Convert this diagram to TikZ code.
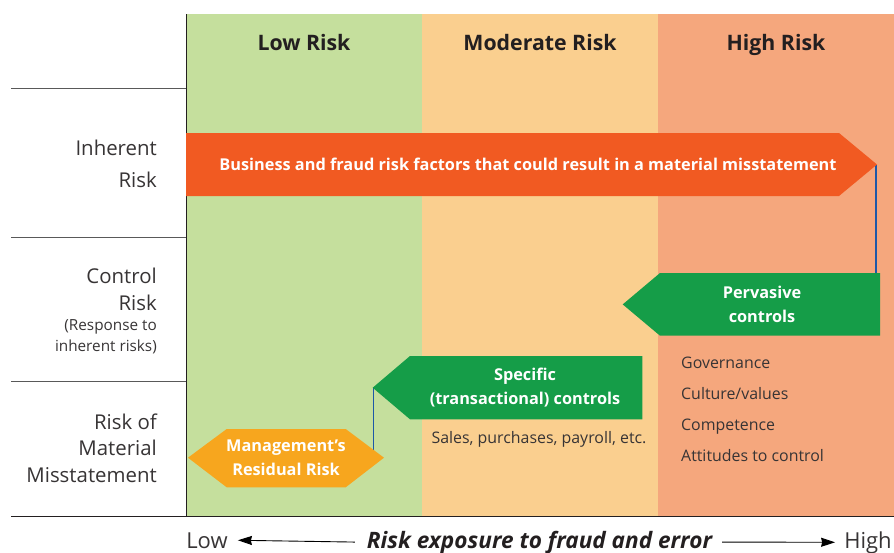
\documentclass[tikz,border=0pt]{standalone}
\usepackage{fontspec}
\setmainfont{Open Sans}
\usepackage{xcolor}
\usetikzlibrary{arrows.meta, positioning, calc, backgrounds}

\definecolor{lowband}{RGB}{197,223,157}
\definecolor{modband}{RGB}{250,207,143}
\definecolor{highband}{RGB}{245,167,125}
\definecolor{inhred}{RGB}{241,90,34}
\definecolor{ctrlgreen}{RGB}{21,157,72}
\definecolor{residorange}{RGB}{247,166,30}
\definecolor{linkblue}{RGB}{28,88,168}
\definecolor{ink}{RGB}{35,31,32}
\definecolor{inklight}{RGB}{55,52,53}

\begin{document}
\begin{tikzpicture}[
    x=1pt, y=-1pt,
    head/.style    = {font=\bfseries\fontsize{21.3}{25}\selectfont, text=ink, anchor=base},
    rowlab/.style  = {font=\fontsize{20.4}{26.5}\selectfont, text=inklight, align=right, anchor=east, inner sep=0pt},
    sublab/.style  = {font=\fontsize{15.3}{20.5}\selectfont, text=inklight, align=right, anchor=east, inner sep=0pt},
    note/.style    = {font=\fontsize{15.9}{31}\selectfont, text=inklight, align=left, inner sep=0pt},
    banner/.style  = {inner sep=0pt, text=white, align=center, font=\bfseries\fontsize{16.3}{24}\selectfont},
    rule/.style    = {line width=0.8pt, gray!70!black},
    link/.style    = {line width=1.8pt, linkblue},
    axend/.style   = {font=\fontsize{22}{26}\selectfont, text=inklight, anchor=base, inner sep=0pt},
    axarrow/.style = {line width=0.9pt, -{Stealth[length=14pt,width=9pt,inset=1pt]}},
]
\useasboundingbox (0,0) rectangle (894,552);

% ---- risk bands ----
\begin{scope}[on background layer]
  \fill[lowband]  (186,14) rectangle (422,516.5);
  \fill[modband]  (422,14) rectangle (658,516.5);
  \fill[highband] (658,14) rectangle (894,516.5);
\end{scope}

\node[head] (lowhd)  at (304,50) {Low Risk};
\node[head] (modhd)  at (540,50) {Moderate Risk};
\node[head] (highhd) at (776,50) {High Risk};

% ---- row rules ----
\draw[rule] (11,88) -- (186,88);
\draw[rule] (11,237) -- (186,237);
\draw[rule] (11,381) -- (186,381);
\draw[line width=0.9pt, ink] (186,14) -- (186,516.5);
\draw[line width=0.9pt, ink] (11,516.5) -- (894,516.5);

% ---- row labels ----
\node[rowlab, font=\fontsize{20.4}{31.6}\selectfont] (inhlab) at (157,164) {Inherent\\Risk};
\node[rowlab]  (ctrllab)  at (157,289.5) {Control\\Risk};
\node[sublab]  (ctrlsub)  at (157,336.5) {(Response to\\inherent risks)};
\node[rowlab]  (rmmlab)   at (157,448)   {Risk of\\Material\\Misstatement};

% ---- banners ----
\fill[inhred] (186,133) -- (839,133) -- (877,164.5) coordinate (inhtip) -- (839,196) -- (186,196) -- cycle;
\node[banner] (inh) at (528,164.5) {Business and fraud risk factors that could result in a material misstatement};

\fill[ctrlgreen] (880,273) coordinate (pervtop) -- (660,273) -- (622.7,304.4) -- (660,335.7) -- (880,335.7) -- cycle;
\node[banner] (perv) at (762,304.4) {Pervasive\\controls};

\fill[ctrlgreen] (642.3,356) -- (410,356) -- (372.7,387.7) coordinate (spectip) -- (410,419.3) -- (642.3,419.3) -- cycle;
\node[banner] (spec) at (525,387.7) {Specific\\(transactional) controls};

\fill[residorange] (188,457.7) -- (226.7,429) -- (345.7,429) -- (384,457.7) coordinate (residtip)
                   -- (345.7,487.3) -- (226.7,487.3) -- cycle;
\node[banner] (resid) at (286,458) {Management’s\\Residual Risk};

% ---- control notes ----
\node[note] (specnote) at (539,439) {Sales, purchases, payroll, etc.};
\node[note, anchor=west] (pervnote) at (681,409.5) {Governance\\Culture/values\\Competence\\Attitudes to control};

% ---- links (behind the banners) ----
\begin{scope}[on background layer]
  \draw[link] ([xshift=-1.2pt]inhtip) -- ([xshift=-1.2pt]inhtip |- pervtop);
  \draw[link] ([xshift=0.8pt]spectip) -- ([xshift=0.8pt]spectip |- residtip);
\end{scope}

% ---- exposure axis ----
\node[axend] (lowend) at (207,548) {Low};
\node[font=\bfseries\itshape\fontsize{22.6}{26}\selectfont, text=ink, anchor=base, inner sep=0pt] (axtitle) at (539.5,548) {Risk exposure to fraud and error};
\node[axend] (highend) at (868,548) {High};
\draw[axarrow] ([xshift=-12pt]axtitle.west) -- ([xshift=10pt]lowend.east);
\draw[axarrow] ([xshift=10pt]axtitle.east) -- ([xshift=-9pt]highend.west);

\end{tikzpicture}
\end{document}
